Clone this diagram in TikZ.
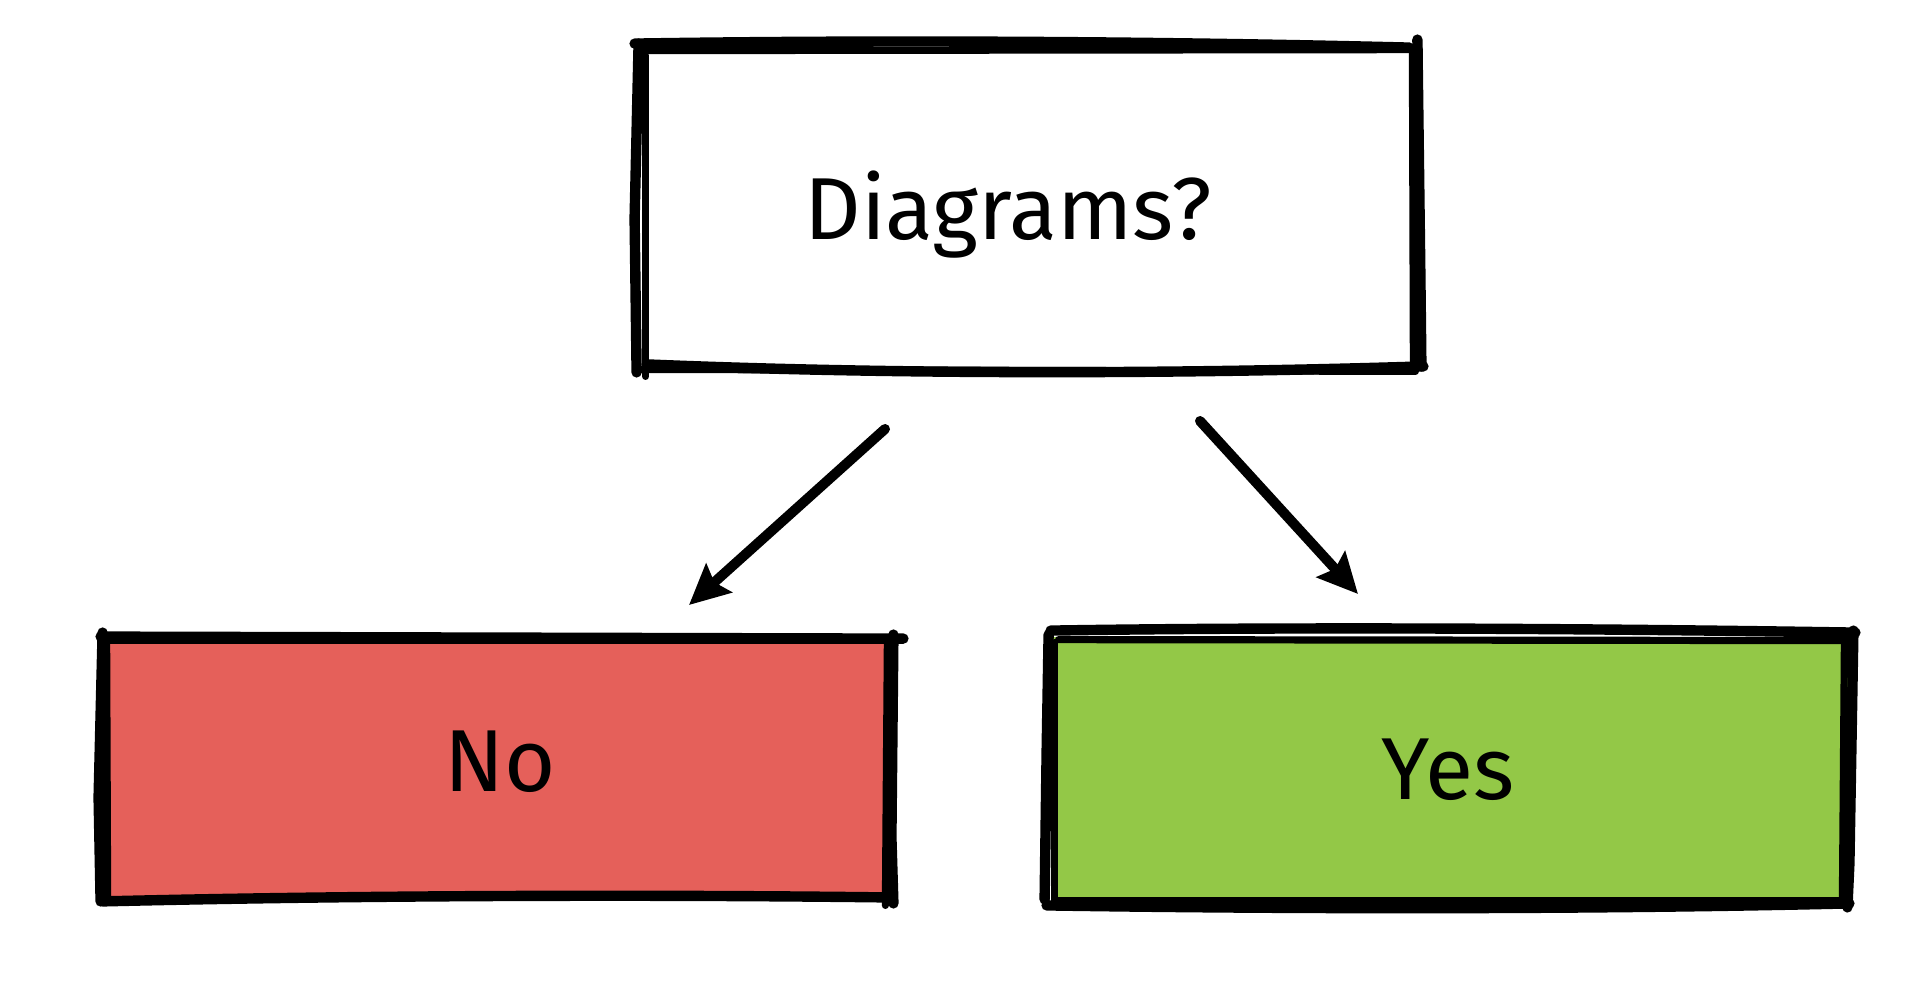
\documentclass[tikz,border=0pt]{standalone}
\usepackage{fontspec}
\setmainfont{Fira Sans}
\usetikzlibrary{arrows.meta}
\definecolor{nored}{HTML}{E5605A}
\definecolor{yesgreen}{HTML}{93C847}
\tikzset{
  box/.style={rectangle, inner sep=0pt},
  label/.style={font=\fontsize{44}{48}\selectfont},
  ink/.style={line width=5.2pt, line cap=round, line join=round},
  inkthin/.style={line width=3.6pt, line cap=round, line join=round},
  arrowink/.style={line width=5pt, line cap=round, -{Stealth[length=20pt,width=19pt,inset=3pt]}},
}
\begin{document}
\begin{tikzpicture}[x=0.5pt,y=-0.5pt]
\useasboundingbox (0,0) rectangle (1906,994);
% nodes
\node[box, minimum width=389pt, minimum height=161pt] (q) at (1028,207) {};
\node[label] (qt) at (1008,215) {Diagrams?};
\node[box, fill=nored, minimum width=395pt, minimum height=130pt] (no) at (498,767) {};
\node[label] (nt) at (500,762) {No};
\node[box, fill=yesgreen, minimum width=399pt, minimum height=133pt] (yes) at (1450,770) {};
\node[label] (yt) at (1448,770) {Yes};
% sketchy outlines: top box
\draw[ink] ([shift={(-4,-2)}]q.north west) .. controls ([shift={(250,-6)}]q.north west) and ([shift={(-250,-4)}]q.north east) .. ([shift={(-8,2)}]q.north east);
\draw[inkthin] ([shift={(6,5)}]q.north west) -- ([shift={(2,4)}]q.north east);
\draw[ink] ([shift={(0,-6)}]q.north east) -- ([shift={(3,-90)}]q.south east) -- ([shift={(4,-2)}]q.south east);
\draw[inkthin] ([shift={(-5,4)}]q.north east) -- ([shift={(-4,-4)}]q.south east);
\draw[ink] ([shift={(6,-2)}]q.south east) .. controls ([shift={(-250,6)}]q.south east) and ([shift={(250,6)}]q.south west) .. ([shift={(8,-4)}]q.south west);
\draw[inkthin] ([shift={(-2,3)}]q.south east) -- ([shift={(2,1)}]q.south west);
\draw[ink] ([shift={(-2,4)}]q.south west) -- ([shift={(-4,-150)}]q.south west) -- ([shift={(0,-2)}]q.north west);
\draw[inkthin] ([shift={(7,8)}]q.south west) -- ([shift={(7,10)}]q.north west);
% sketchy outlines: No box
\draw[ink] ([shift={(-2,0)}]no.north west) -- ([shift={(10,2)}]no.north east);
\draw[inkthin] ([shift={(4,4)}]no.north west) -- ([shift={(4,4)}]no.north east);
\draw[ink] ([shift={(0,-2)}]no.north east) -- ([shift={(-2,-60)}]no.south east) -- ([shift={(0,6)}]no.south east);
\draw[inkthin] ([shift={(-6,4)}]no.north east) -- ([shift={(-8,8)}]no.south east);
\draw[ink] ([shift={(-8,0)}]no.south east) .. controls ([shift={(-250,-3)}]no.south east) and ([shift={(250,-2)}]no.south west) .. ([shift={(0,4)}]no.south west);
\draw[ink] ([shift={(-2,4)}]no.south west) -- ([shift={(-4,-100)}]no.south west) -- ([shift={(0,-4)}]no.north west);
\draw[inkthin] ([shift={(5,0)}]no.south west) -- ([shift={(4,4)}]no.north west);
% sketchy outlines: Yes box
\draw[ink] ([shift={(0,-6)}]yes.north west) .. controls ([shift={(250,-10)}]yes.north west) and ([shift={(-250,-8)}]yes.north east) .. ([shift={(6,-4)}]yes.north east);
\draw[inkthin] ([shift={(8,3)}]yes.north west) -- ([shift={(0,4)}]yes.north east);
\draw[ink] ([shift={(4,-6)}]yes.north east) -- ([shift={(0,-40)}]yes.south east) -- ([shift={(-2,4)}]yes.south east);
\draw[inkthin] ([shift={(-5,6)}]yes.north east) -- ([shift={(-7,-4)}]yes.south east);
\draw[ink] ([shift={(0,0)}]yes.south east) .. controls ([shift={(-250,6)}]yes.south east) and ([shift={(250,6)}]yes.south west) .. ([shift={(-4,2)}]yes.south west);
\draw[inkthin] ([shift={(-6,-3)}]yes.south east) -- ([shift={(8,-3)}]yes.south west);
\draw[ink] ([shift={(-6,-4)}]yes.south west) -- ([shift={(-4,-150)}]yes.south west) -- ([shift={(-2,-2)}]yes.north west);
\draw[inkthin] ([shift={(4,-2)}]yes.south west) -- ([shift={(4,6)}]yes.north west);
% arrows
\coordinate (a1s) at (885,429);
\coordinate (a1e) at (689,605);
\coordinate (a2s) at (1200,421);
\coordinate (a2e) at (1358,594);
\draw[arrowink] (a1s) -- (a1e);
\draw[arrowink] (a2s) -- (a2e);
\end{tikzpicture}
\end{document}
